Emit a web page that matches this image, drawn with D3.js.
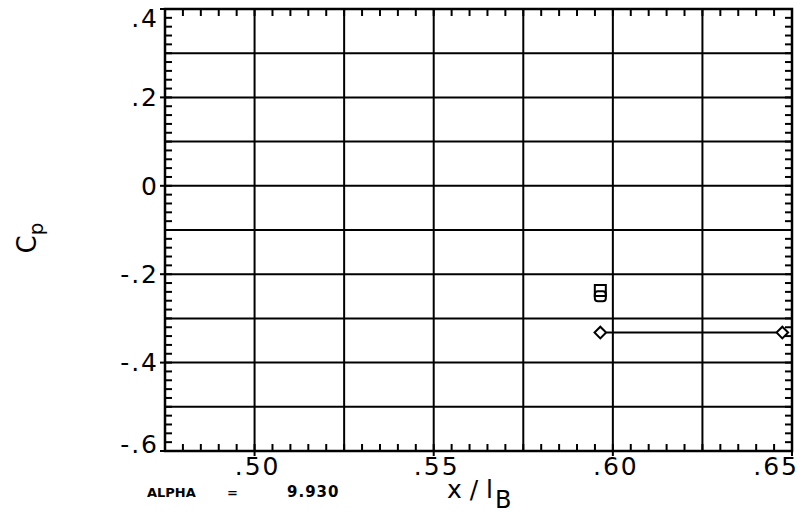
<!DOCTYPE html>
<html>
<head>
<meta charset="utf-8">
<script src="https://cdn.jsdelivr.net/npm/d3@7"></script>
<style>
  html, body { margin: 0; padding: 0; background: #fff; }
  svg { display: block; }
  text { font-family: "DejaVu Sans", sans-serif; fill: #000; }
</style>
</head>
<body>
<svg id="chart" width="806" height="530"></svg>
<script>
// ---- data ----
const xTickValues = [0.50, 0.55, 0.60, 0.65];
const xTickLabels = [".50", ".55", ".60", ".65"];
const yTickValues = [0.4, 0.2, 0, -0.2, -0.4, -0.6];
const yTickLabels = [".4", ".2", "0", "-.2", "-.4", "-.6"];
const diamondX = [0.5965, 0.6473];
const diamondY = [-0.332, -0.332];
const squareX = [0.5965];
const squareY = [-0.238];
const roundX = [0.5965];
const roundY = [-0.250];
const alphaLabel = "ALPHA";
const alphaValue = "9.930";

// ---- layout ----
const L = 165, R = 792, T = 9, B = 451;
const svg = d3.select("#chart");
const x = d3.scaleLinear().domain([0.475, 0.65]).range([L, R]);
const y = d3.scaleLinear().domain([-0.6, 0.4]).range([B, T]);

function lines(data, f, sw) {
  const g = svg.append("g");
  data.forEach(d => {
    const c = f(d);
    g.append("line")
      .attr("x1", c[0]).attr("y1", c[1]).attr("x2", c[2]).attr("y2", c[3])
      .attr("stroke", "#000").attr("stroke-width", sw);
  });
}

// grid lines
const xGrid = d3.range(1, 7).map(i => 0.475 + i * 0.025);
const yGrid = d3.range(1, 10).map(i => -0.6 + i * 0.1);
lines(xGrid, d => [x(d), T, x(d), B], 2);
lines(yGrid, d => [L, y(d), R, y(d)], 2);

// frame
svg.append("rect").attr("x", L).attr("y", T).attr("width", R - L).attr("height", B - T)
  .attr("fill", "none").attr("stroke", "#000").attr("stroke-width", 2.5);

// minor ticks (inward)
const xMinor = d3.range(1, 35).map(i => 0.475 + i * 0.005);
const yMinor = d3.range(1, 50).map(i => -0.6 + i * 0.02);
const tk = 7;
lines(xMinor, d => [x(d), B, x(d), B - tk], 2);
lines(xMinor, d => [x(d), T, x(d), T + tk], 2);
lines(yMinor, d => [L, y(d), L + tk, y(d)], 2);
lines(yMinor, d => [R, y(d), R - tk, y(d)], 2);

// major tick stubs outside
lines(xTickValues, d => [x(d), B, x(d), B + 5], 2);
lines(yTickValues, d => [L - 5, y(d), L, y(d)], 2);

// x tick labels
svg.append("g").selectAll("text").data(xTickValues).join("text")
  .attr("x", (d, i) => i === xTickValues.length - 1 ? x(d) + 7 : x(d) + 3)
  .attr("y", B + 24)
  .attr("text-anchor", (d, i) => i === xTickValues.length - 1 ? "end" : "middle")
  .attr("font-size", 25).attr("letter-spacing", 2)
  .text((d, i) => xTickLabels[i]);

// y tick labels
svg.append("g").selectAll("text").data(yTickValues).join("text")
  .attr("x", L - 6)
  .attr("y", (d, i) => y(d) + (i === 0 ? 9 : (i === yTickValues.length - 1 ? -7 : 0)))
  .attr("dy", "0.35em")
  .attr("text-anchor", "end")
  .attr("font-size", 25).attr("letter-spacing", 2)
  .text((d, i) => yTickLabels[i]);

// data line + diamonds
svg.append("line")
  .attr("x1", x(diamondX[0]) + 6).attr("x2", x(diamondX[1]) - 6)
  .attr("y1", y(diamondY[0])).attr("y2", y(diamondY[1]))
  .attr("stroke", "#000").attr("stroke-width", 2);
svg.append("g").selectAll("path").data(diamondX).join("path")
  .attr("d", d3.symbol().type(d3.symbolSquare2).size(85)())
  .attr("transform", (d, i) => `translate(${x(d)},${y(diamondY[i])}) rotate(45)`)
  .attr("fill", "#fff").attr("stroke", "#000").attr("stroke-width", 2);

// stacked symbols near -0.24
svg.append("g").selectAll("rect").data(squareX).join("rect")
  .attr("x", d => x(d) - 5.5).attr("y", (d, i) => y(squareY[i]) - 6)
  .attr("width", 11).attr("height", 11)
  .attr("fill", "none").attr("stroke", "#000").attr("stroke-width", 2);
svg.append("g").selectAll("rect").data(roundX).join("rect")
  .attr("x", d => x(d) - 5.5).attr("y", (d, i) => y(roundY[i]) - 5)
  .attr("width", 11).attr("height", 10).attr("rx", 3)
  .attr("fill", "none").attr("stroke", "#000").attr("stroke-width", 2);

// axis titles
const yt = svg.append("text")
  .attr("transform", "translate(36,238) rotate(-90)")
  .attr("text-anchor", "middle").attr("font-size", 26);
yt.append("tspan").text("C");
yt.append("tspan").attr("font-size", 20).attr("dy", 7).text("p");

const xt = svg.append("text").attr("x", 447).attr("y", 498).attr("font-size", 25);
xt.append("tspan").text("x / l");
xt.append("tspan").attr("font-size", 24).attr("dy", 10).attr("dx", 2).text("B");

// ALPHA annotation
svg.append("text").attr("x", 147).attr("y", 497).attr("font-size", 13)
  .attr("font-weight", "bold").text(alphaLabel);
svg.append("text").attr("x", 227).attr("y", 497).attr("font-size", 13)
  .attr("font-weight", "bold").text("=");
svg.append("text").attr("x", 287).attr("y", 497).attr("font-size", 15)
  .attr("font-weight", "bold").attr("letter-spacing", 1).text(alphaValue);
</script>
</body>
</html>
